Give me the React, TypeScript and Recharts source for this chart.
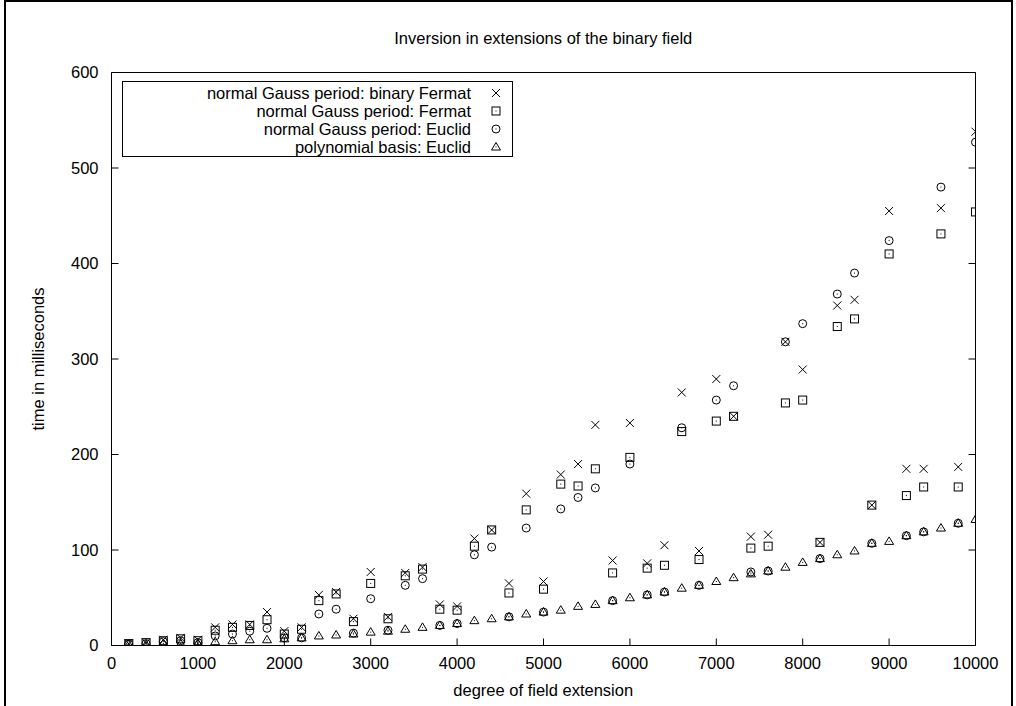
import React from 'react';
import { ScatterChart, Scatter, XAxis, YAxis, Legend } from 'recharts';

// degree of the field extension (x) and timings in ms for each method
const degrees = [
  200, 400, 600, 800, 1000, 1200, 1400, 1600, 1800, 2000,
  2200, 2400, 2600, 2800, 3000, 3200, 3400, 3600, 3800, 4000,
  4200, 4400, 4600, 4800, 5000, 5200, 5400, 5600, 5800, 6000,
  6200, 6400, 6600, 6800, 7000, 7200, 7400, 7600, 7800, 8000,
  8200, 8400, 8600, 8800, 9000, 9200, 9400, 9600, 9800, 10000,
];

const gaussBinaryFermat = [
  2, 3, 6, 8, 6, 19, 22, 22, 35, 15,
  19, 53, 56, 28, 77, 30, 76, 82, 43, 41,
  112, 121, 65, 159, 67, 179, 190, 231, 89, 233,
  86, 105, 265, 99, 279, 240, 114, 116, 318, 289,
  108, 356, 362, 147, 455, 185, 185, 458, 187, 538,
];

const gaussFermat = [
  2, 3, 5, 7, 5, 16, 19, 21, 27, 12,
  17, 47, 54, 25, 65, 28, 73, 80, 38, 37,
  104, 121, 55, 142, 59, 169, 167, 185, 76, 197,
  81, 84, 224, 90, 235, 240, 102, 104, 254, 257,
  108, 334, 342, 147, 410, 157, 166, 431, 166, 454,
];

const gaussEuclid = [
  1.5, 2, 4, 5, 3, 10, 12, 15, 18, 8,
  8, 33, 38, 13, 49, 16, 63, 70, 21, 23,
  95, 103, 30, 123, 35, 143, 155, 165, 47, 190,
  53, 56, 228, 63, 257, 272, 77, 78, 318, 337,
  91, 368, 390, 107, 424, 115, 119, 480, 128, 527,
];

const polyEuclid = [
  1, 1, 2, 2, 2, 4, 5, 6, 6, 7,
  8, 10, 11, 12, 14, 15, 17, 19, 21, 23,
  26, 28, 30, 33, 35, 37, 41, 43, 47, 50,
  53, 56, 60, 63, 67, 71, 75, 78, 82, 87,
  91, 95, 99, 107, 109, 115, 119, 123, 128, 132,
];

const xTicks = [0, 1000, 2000, 3000, 4000, 5000, 6000, 7000, 8000, 9000, 10000];
const yTicks = [0, 100, 200, 300, 400, 500, 600];

const seriesNames = [
  'normal Gauss period: binary Fermat',
  'normal Gauss period: Fermat',
  'normal Gauss period: Euclid',
  'polynomial basis: Euclid',
];

const toPoints = (vals: number[]) => degrees.map((d, i) => ({ x: d, y: vals[i] }));

const FONT = '"Liberation Sans", Arial, Helvetica, sans-serif';
const FS = 16.5;
const TICK = 7;
const W = 1016;
const H = 706;
// axes are 1px wide/high, so plot box ends up at 111.5..975.5 x 72.5..645.5
const M = { top: 71.5, right: 39.5, bottom: 59.5, left: 110.5 };

// point symbols, gnuplot style
const Mark = ({ kind, cx, cy }: { kind: string; cx: number; cy: number }) => {
  const s = { stroke: '#000', strokeWidth: 1, fill: 'none' };
  const dot = <rect x={cx - 0.5} y={cy - 0.5} width={1} height={1} fill="#000" />;
  if (kind === 'cross') {
    return (
      <g>
        <line x1={cx - 4} y1={cy - 4} x2={cx + 4} y2={cy + 4} {...s} />
        <line x1={cx - 4} y1={cy + 4} x2={cx + 4} y2={cy - 4} {...s} />
      </g>
    );
  }
  if (kind === 'square') {
    return (
      <g>
        <rect x={cx - 4} y={cy - 4} width={8} height={8} {...s} />
        {dot}
      </g>
    );
  }
  if (kind === 'circle') {
    return (
      <g>
        <circle cx={cx} cy={cy} r={4} {...s} />
        {dot}
      </g>
    );
  }
  return (
    <g>
      <polygon points={`${cx},${cy - 4.5} ${cx - 4.5},${cy + 3} ${cx + 4.5},${cy + 3}`} {...s} />
      {dot}
    </g>
  );
};

const kinds = ['cross', 'square', 'circle', 'triangle'];

const shapeFor = (kind: string) => (props: any) => <Mark kind={kind} cx={props.cx} cy={props.cy} />;

const BottomTick = (props: any) => {
  const { x, y, payload } = props;
  return (
    <g>
      <line x1={x} x2={x} y1={y} y2={y - TICK} stroke="#000" />
      <text x={x} y={y + 23} textAnchor="middle" fontSize={FS} fontFamily={FONT} fill="#000">
        {payload.value}
      </text>
    </g>
  );
};

const TopTick = (props: any) => {
  const { x, y } = props;
  return <line x1={x} x2={x} y1={y} y2={y + TICK} stroke="#000" />;
};

const LeftTick = (props: any) => {
  const { x, y, payload } = props;
  return (
    <g>
      <line x1={x} x2={x + TICK} y1={y} y2={y} stroke="#000" />
      <text x={x - 13} y={y} dy="0.36em" textAnchor="end" fontSize={FS} fontFamily={FONT} fill="#000">
        {payload.value}
      </text>
    </g>
  );
};

const RightTick = (props: any) => {
  const { x, y } = props;
  return <line x1={x} x2={x - TICK} y1={y} y2={y} stroke="#000" />;
};

const LegendBox = ({ payload }: any) => {
  const items = [...(payload || [])].sort(
    (a: any, b: any) => seriesNames.indexOf(a.value) - seriesNames.indexOf(b.value)
  );
  return (
    <div
      style={{
        border: '1px solid #000',
        boxSizing: 'border-box',
        width: 391,
        height: 76,
        paddingTop: 2,
        fontFamily: FONT,
        fontSize: FS,
        color: '#000',
      }}
    >
      {items.map((entry: any) => {
        const kind = kinds[seriesNames.indexOf(entry.value)];
        return (
          <div
            key={entry.value}
            style={{ display: 'flex', justifyContent: 'flex-end', alignItems: 'center', height: 18 }}
          >
            <span style={{ lineHeight: '18px' }}>{entry.value}</span>
            <svg width={41} height={18} style={{ display: 'block' }}>
              <Mark kind={kind} cx={25} cy={9} />
            </svg>
          </div>
        );
      })}
    </div>
  );
};

export default function App() {
  const series = [gaussBinaryFermat, gaussFermat, gaussEuclid, polyEuclid];
  return (
    <div style={{ position: 'absolute', left: 0, top: 0, width: W, height: H, background: '#fff', overflow: 'hidden' }}>
      <div
        style={{
          position: 'absolute',
          left: 4,
          top: 0,
          width: 1009,
          height: 720,
          borderTop: '2px solid #000',
          borderLeft: '2px solid #000',
          borderRight: '2px solid #000',
          boxSizing: 'border-box',
        }}
      />
      <div style={{ position: 'absolute', left: 0, top: 0, width: W, height: H }}>
        <ScatterChart width={W} height={H} margin={M}>
          <XAxis
            type="number"
            dataKey="x"
            domain={[0, 10000]}
            ticks={xTicks}
            allowDataOverflow
            height={1}
            tickSize={0}
            tickMargin={0}
            stroke="#000"
            tick={<BottomTick />}
            interval={0}
          />
          <XAxis
            xAxisId="top"
            orientation="top"
            type="number"
            domain={[0, 10000]}
            ticks={xTicks}
            allowDataOverflow
            height={1}
            tickSize={0}
            tickMargin={0}
            stroke="#000"
            tick={<TopTick />}
            interval={0}
          />
          <YAxis
            type="number"
            dataKey="y"
            domain={[0, 600]}
            ticks={yTicks}
            allowDataOverflow
            width={1}
            tickSize={0}
            tickMargin={0}
            stroke="#000"
            tick={<LeftTick />}
            interval={0}
          />
          <YAxis
            yAxisId="right"
            orientation="right"
            type="number"
            domain={[0, 600]}
            ticks={yTicks}
            allowDataOverflow
            width={1}
            tickSize={0}
            tickMargin={0}
            stroke="#000"
            tick={<RightTick />}
            interval={0}
          />
          <Legend
            layout="horizontal"
            verticalAlign="middle"
            align="center"
            content={<LegendBox />}
            wrapperStyle={{ left: 122, top: 81, width: 391, height: 76 }}
          />
          {series.map((vals, i) => (
            <Scatter
              key={seriesNames[i]}
              name={seriesNames[i]}
              data={toPoints(vals)}
              fill="#000"
              shape={shapeFor(kinds[i])}
              isAnimationActive={false}
            />
          ))}
        </ScatterChart>
      </div>
      <div
        style={{
          position: 'absolute',
          left: 111.5,
          width: 863.5,
          top: 28,
          textAlign: 'center',
          fontFamily: FONT,
          fontSize: FS,
          lineHeight: '20px',
        }}
      >
        Inversion in extensions of the binary field
      </div>
      <div
        style={{
          position: 'absolute',
          left: 111.5,
          width: 863.5,
          top: 680,
          textAlign: 'center',
          fontFamily: FONT,
          fontSize: FS,
          lineHeight: '20px',
        }}
      >
        degree of field extension
      </div>
      <div
        style={{
          position: 'absolute',
          left: 38 - 150,
          top: 359 - 10,
          width: 300,
          textAlign: 'center',
          fontFamily: FONT,
          fontSize: FS,
          lineHeight: '20px',
          transform: 'rotate(-90deg)',
        }}
      >
        time in milliseconds
      </div>
    </div>
  );
}
